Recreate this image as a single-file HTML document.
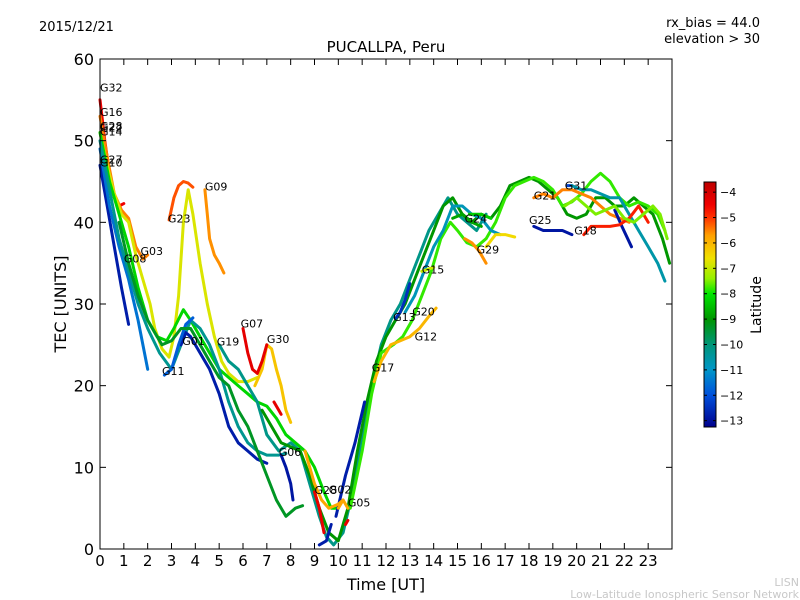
<!DOCTYPE html>
<html><head><meta charset="utf-8">
<style>
body{margin:0;background:#fff;}
svg{display:block;font-family:"DejaVu Sans","Liberation Sans",sans-serif;}
</style></head>
<body>
<svg id="chart" width="800" height="600" viewBox="0 0 800 600">
<text x="39" y="31" font-size="13">2015/12/21</text>
<text x="760" y="27" font-size="13" text-anchor="end">rx_bias = 44.0</text>
<text x="760" y="43" font-size="13" text-anchor="end">elevation &gt; 30</text>
<text x="386" y="52" font-size="15" text-anchor="middle">PUCALLPA, Peru</text>
<text x="386" y="590" font-size="16" text-anchor="middle">Time [UT]</text>
<text x="66" y="304" font-size="16" text-anchor="middle" transform="rotate(-90 66 304)">TEC [UNITS]</text>
<g id="plot"></g>
<g id="cbar"></g>
<text x="761" y="305" font-size="14" text-anchor="middle" transform="rotate(-90 761 305)">Latitude</text>
<text x="799" y="586" font-size="11" fill="#c8c8c8" text-anchor="end">LISN</text>
<text x="799" y="598" font-size="11" fill="#c8c8c8" text-anchor="end">Low-Latitude Ionospheric Sensor Network</text>
</svg>
<script>
const xTicks=[0,1,2,3,4,5,6,7,8,9,10,11,12,13,14,15,16,17,18,19,20,21,22,23];
const yTicks=[0,10,20,30,40,50,60];
const cbTicks=[-4,-5,-6,-7,-8,-9,-10,-11,-12,-13];
const seriesLat=[-4.5,-5.5,-6.8,-8.2,-12.8,-11.5,-10.3,-12.8,-11.8,-9.3,-10.2,-9.0,-12.8,-7.8,-6,-12.5,-10.8,-7,-5.6,-6.5,-8.3,-12.9,-5.5,-12.2,-10.6,-12.9,-4.8,-6.2,-4.3,-5.8,-4.4,-12.9,-12.8,-4.4,-5.8,-4.3,-8.8,-7.5,-5.2,-5.6];
const seriesPts=[
[[0,55],[0.2,50],[0.4,46],[0.6,43],[0.8,42],[1,42.3]],
[[0,53],[0.3,48],[0.6,43.5],[0.9,41.5],[1.2,40.5],[1.5,37],[1.8,35.5],[2,36]],
[[0,51],[0.3,47],[0.6,43.5],[0.9,41],[1.2,40],[1.5,36],[1.8,33],[2.1,30],[2.3,27],[2.6,24.5],[2.9,23.5],[3.1,26],[3.3,31],[3.5,40],[3.7,44],[3.9,41],[4.2,35],[4.5,30],[4.8,26],[5.1,23],[5.4,21.5],[5.8,20.5],[6.2,20.5],[6.6,21]],
[[0,51],[0.4,45],[0.8,41],[1.2,37],[1.6,32],[2,28],[2.4,26],[2.8,25.5],[3.1,27],[3.5,29.3],[3.8,28],[4.2,26],[4.6,24],[5,22],[5.4,21],[5.8,20],[6.2,19],[6.6,18],[7,17.5],[7.4,16],[7.8,14],[8.2,13],[8.6,12],[9,10],[9.4,7],[9.7,5],[10,5]],
[[0,47],[0.3,42],[0.6,37],[0.9,32],[1.2,27.5]],
[[0,49],[0.4,42],[0.8,37],[1.2,33],[1.6,28],[2,22]],
[[0,50],[0.4,44],[0.8,38],[1.2,34],[1.6,30],[2,27],[2.5,24],[3,22],[3.4,25],[3.8,28],[4.2,27],[4.6,25],[5,22],[5.4,18],[5.8,15],[6.2,13],[6.6,12],[7,11.5],[7.5,11.5],[7.8,11.7]],
[[3.4,25],[3.6,26.5],[3.8,26],[4.2,24],[4.6,22],[5,19],[5.4,15],[5.8,13],[6.2,12],[6.6,11],[7,10.5]],
[[2.7,21.3],[3,22],[3.3,25],[3.6,27.5],[3.9,28.3]],
[[0.8,40],[1.2,35],[1.6,31],[2,28],[2.4,26],[2.6,25],[3,25.5],[3.4,27],[3.8,27],[4.2,25],[4.6,23],[5,21],[5.4,20],[5.8,17],[6.2,15],[6.6,12],[7,9],[7.4,6],[7.8,4],[8.2,5],[8.5,5.3]],
[[5,25],[5.4,23],[5.8,22],[6.2,20],[6.6,18],[7,14],[7.5,12],[8,13],[8.4,12],[8.8,8],[9.2,4],[9.5,1.5],[9.8,0.5],[10.2,2],[10.6,7],[11,14],[11.4,20],[11.8,25],[12.2,28],[12.6,30],[13,33],[13.4,36],[13.8,39],[14.2,41],[14.6,43],[15,41],[15.4,40],[15.8,39],[16.2,41]],
[[6.8,17],[7.2,15],[7.6,13],[8,12.5],[8.4,12],[8.8,9],[9.2,5],[9.6,2],[10,1],[10.4,5],[10.8,12],[11.2,18],[11.6,23],[12,26],[12.4,28],[12.8,30],[13.2,33],[13.6,36],[14,39],[14.4,42],[14.8,43],[15.2,41],[15.6,40],[16,41],[16.4,40.5],[16.8,42],[17.2,44.5],[17.6,45],[18,45.5],[18.4,45],[18.8,44],[19.2,43],[19.6,41],[20,40.5],[20.4,41],[20.8,43],[21.2,43],[21.6,42],[22,42],[22.4,43],[22.8,42],[23.2,41],[23.6,38],[23.9,35]],
[[9.9,4],[10.3,9],[10.7,13],[11.1,18]],
[[10.5,5],[11,12],[11.4,19],[11.8,24],[12.3,25],[12.7,26],[13.1,28],[13.5,31],[13.9,34],[14.3,38],[14.7,40],[15,39],[15.4,37.5],[15.8,37],[16.2,38],[16.6,40],[17,43],[17.4,44.5],[17.8,45],[18.2,45.5],[18.6,45],[19,44],[19.4,42],[19.8,42.5],[20.2,43.5],[20.6,45],[21,46],[21.4,45],[21.8,43],[22.2,42],[22.6,42.5],[23,42],[23.4,41],[23.7,39]],
[[11.5,20.5],[11.8,23],[12.2,25],[12.6,25.5],[13,26],[13.4,27],[13.8,28.5],[14.1,29.5]],
[[12.4,28.2],[12.6,29],[12.8,30.5],[13,32.5]],
[[12.8,29],[13.2,31],[13.6,34],[14,37],[14.4,39],[14.8,42],[15.2,42],[15.6,41],[16,40.5],[16.4,39],[16.8,38.5]],
[[13.5,34],[14,34.5]],
[[15.3,38],[15.6,37.5],[15.9,36.5],[16.2,35]],
[[16.2,37],[16.6,38.5],[17,38.5],[17.4,38.2]],
[[15.5,41],[16,41],[16.4,40.5]],
[[18.2,39.5],[18.6,39],[19,39],[19.4,39],[19.8,38.5]],
[[18.2,43],[18.6,43.5],[19,43],[19.4,44],[19.8,44],[20.2,43.5],[20.6,43],[21,42],[21.4,41],[21.8,40.5],[22.2,40]],
[[19.6,44.5],[19.8,44.5]],
[[19.8,44.5],[20.2,44],[20.6,44],[21,43.5],[21.4,43],[21.8,43],[22.2,41],[22.6,39],[23,37],[23.4,35],[23.7,32.8]],
[[21.6,41.5],[21.9,39.5],[22.3,37]],
[[20.3,38.5],[20.6,39.5],[21,39.5],[21.4,39.5],[21.8,39.7],[22.2,40.5],[22.6,42],[23,40]],
[[6.5,20],[6.8,22],[7,25],[7.2,24.5],[7.4,22],[7.6,20],[7.8,17],[8,15.5]],
[[6,27],[6.2,24],[6.4,22],[6.6,21.5],[6.8,23],[7,25]],
[[8.6,12],[9,8],[9.3,6],[9.6,5],[10,5.5],[10.2,6]],
[[9,7],[9.2,5],[9.4,2]],
[[7.6,11.5],[7.8,10],[8,8],[8.1,6]],
[[9.2,0.5],[9.5,1],[9.7,3]],
[[10.3,3],[10.4,3.5]],
[[10,5],[10.2,6],[10.4,5]],
[[7.3,18],[7.5,17],[7.6,16.5]],
[[14.8,40.5],[15.2,41],[15.6,40],[16,39.5]],
[[19.5,42],[20,43],[20.4,42],[20.8,41],[21.2,41.5],[21.6,42],[22,40.5],[22.4,40],[22.8,41],[23.2,42],[23.5,41],[23.8,38]],
[[2.9,40.3],[3.1,43],[3.3,44.5],[3.5,45],[3.7,44.8],[3.9,44.3]],
[[4.4,44],[4.5,41],[4.6,38],[4.8,36],[5.0,35],[5.2,33.8]]
];
const labelNames=["G32","G16","G28","G22","G14","G27","G10","G09","G23","G03","G08","G07","G30","G01","G19","G11","G06","G28","G02","G05","G17","G13","G20","G12","G15","G24","G29","G25","G21","G31","G18"];
const labelPos=[[0,56.5],[0,53.5],[0,51.8],[0,51.6],[0,51.1],[0,47.7],[0,47.3],[4.4,44.4],[2.85,40.5],[1.7,36.5],[1.0,35.6],[5.9,27.6],[7,25.7],[3.45,25.5],[4.9,25.4],[2.6,21.8],[7.5,11.9],[9.0,7.2],[9.6,7.3],[10.4,5.7],[11.4,22.2],[12.3,28.4],[13.1,29.1],[13.2,26.0],[13.5,34.2],[15.3,40.5],[15.8,36.7],[18.0,40.3],[18.2,43.3],[19.5,44.5],[19.9,39.0]];

const X0=100,X1=672,Y0=549,Y1=59;
const xs=h=>X0+h*(X1-X0)/24;
const ys=v=>Y0-v*(Y0-Y1)/60;
const CB0=-3.6,CB1=-13.25,CBT=182,CBB=427;
const cby=v=>CBT+(CB0-v)*(CBB-CBT)/(CB0-CB1);
const stops=[[-3.6,[190,0,0]],[-4.5,[240,0,0]],[-5,[255,50,0]],[-5.7,[255,160,0]],[-6.6,[240,225,0]],[-7.4,[150,240,0]],[-8,[0,230,0]],[-9,[0,150,0]],[-10,[0,150,120]],[-11,[0,150,200]],[-12,[0,80,220]],[-13.25,[0,0,140]]];
function latColor(l){
 if(l>=stops[0][0])return `rgb(${stops[0][1]})`;
 for(let i=1;i<stops.length;i++){
  if(l>=stops[i][0]){const a=stops[i-1],b=stops[i];const t=(a[0]-l)/(a[0]-b[0]);
   return 'rgb('+a[1].map((c,k)=>Math.round(c+(b[1][k]-c)*t)).join(',')+')';}
 }
 return `rgb(${stops[stops.length-1][1]})`;
}
const NS="http://www.w3.org/2000/svg";
function el(tag,attrs,parent){const e=document.createElementNS(NS,tag);for(const k in attrs)e.setAttribute(k,attrs[k]);parent.appendChild(e);return e;}
const plot=document.getElementById('plot');
seriesPts.forEach((pts,i)=>{
 const p=el('polyline',{points:pts.map(q=>xs(q[0]).toFixed(1)+','+ys(q[1]).toFixed(1)).join(' '),fill:'none',stroke:latColor(seriesLat[i]),'stroke-width':3,'stroke-linejoin':'round','stroke-linecap':'round'},plot);
 
 
});
labelNames.forEach((n,i)=>{
 const t=el('text',{x:xs(labelPos[i][0]),y:ys(labelPos[i][1])+4,'font-size':11},plot);
 t.textContent=n;
 
 
});
const fr=el('rect',{x:X0,y:Y1,width:X1-X0,height:Y0-Y1,fill:'none',stroke:'#000','stroke-width':1},plot);


xTicks.forEach(h=>{
 const x=xs(h);
 el('line',{x1:x,y1:Y0,x2:x,y2:Y0-6,stroke:'#000'},plot);
 el('line',{x1:x,y1:Y1,x2:x,y2:Y1+6,stroke:'#000'},plot);
 const t=el('text',{x:x,y:Y0+17,'font-size':15,'text-anchor':'middle'},plot);
 t.textContent=h;
 
 
});
yTicks.forEach(v=>{
 const y=ys(v);
 el('line',{x1:X0,y1:y,x2:X0+6,y2:y,stroke:'#000'},plot);
 el('line',{x1:X1,y1:y,x2:X1-6,y2:y,stroke:'#000'},plot);
 const t=el('text',{x:X0-6,y:y+6,'font-size':16,'text-anchor':'end'},plot);
 t.textContent=v;
 
 
});
const cb=document.getElementById('cbar');
for(let y=CBT;y<CBB;y++){
 const v=CB0+(y+0.5-CBT)*(CB1-CB0)/(CBB-CBT);
 el('rect',{x:704,y:y,width:12,height:1.05,fill:latColor(v)},cb);
}
el('rect',{x:704,y:CBT,width:12,height:CBB-CBT,fill:'none',stroke:'#000'},cb);
cbTicks.forEach(v=>{
 const y=cby(v);
 el('line',{x1:704,y1:y,x2:707,y2:y,stroke:'#000'},cb);
 el('line',{x1:716,y1:y,x2:713,y2:y,stroke:'#000'},cb);
 const t=el('text',{x:720,y:y+4,'font-size':11},cb);
 t.textContent='\u2212'+Math.abs(v);
 
 
});
</script>
</body></html>
